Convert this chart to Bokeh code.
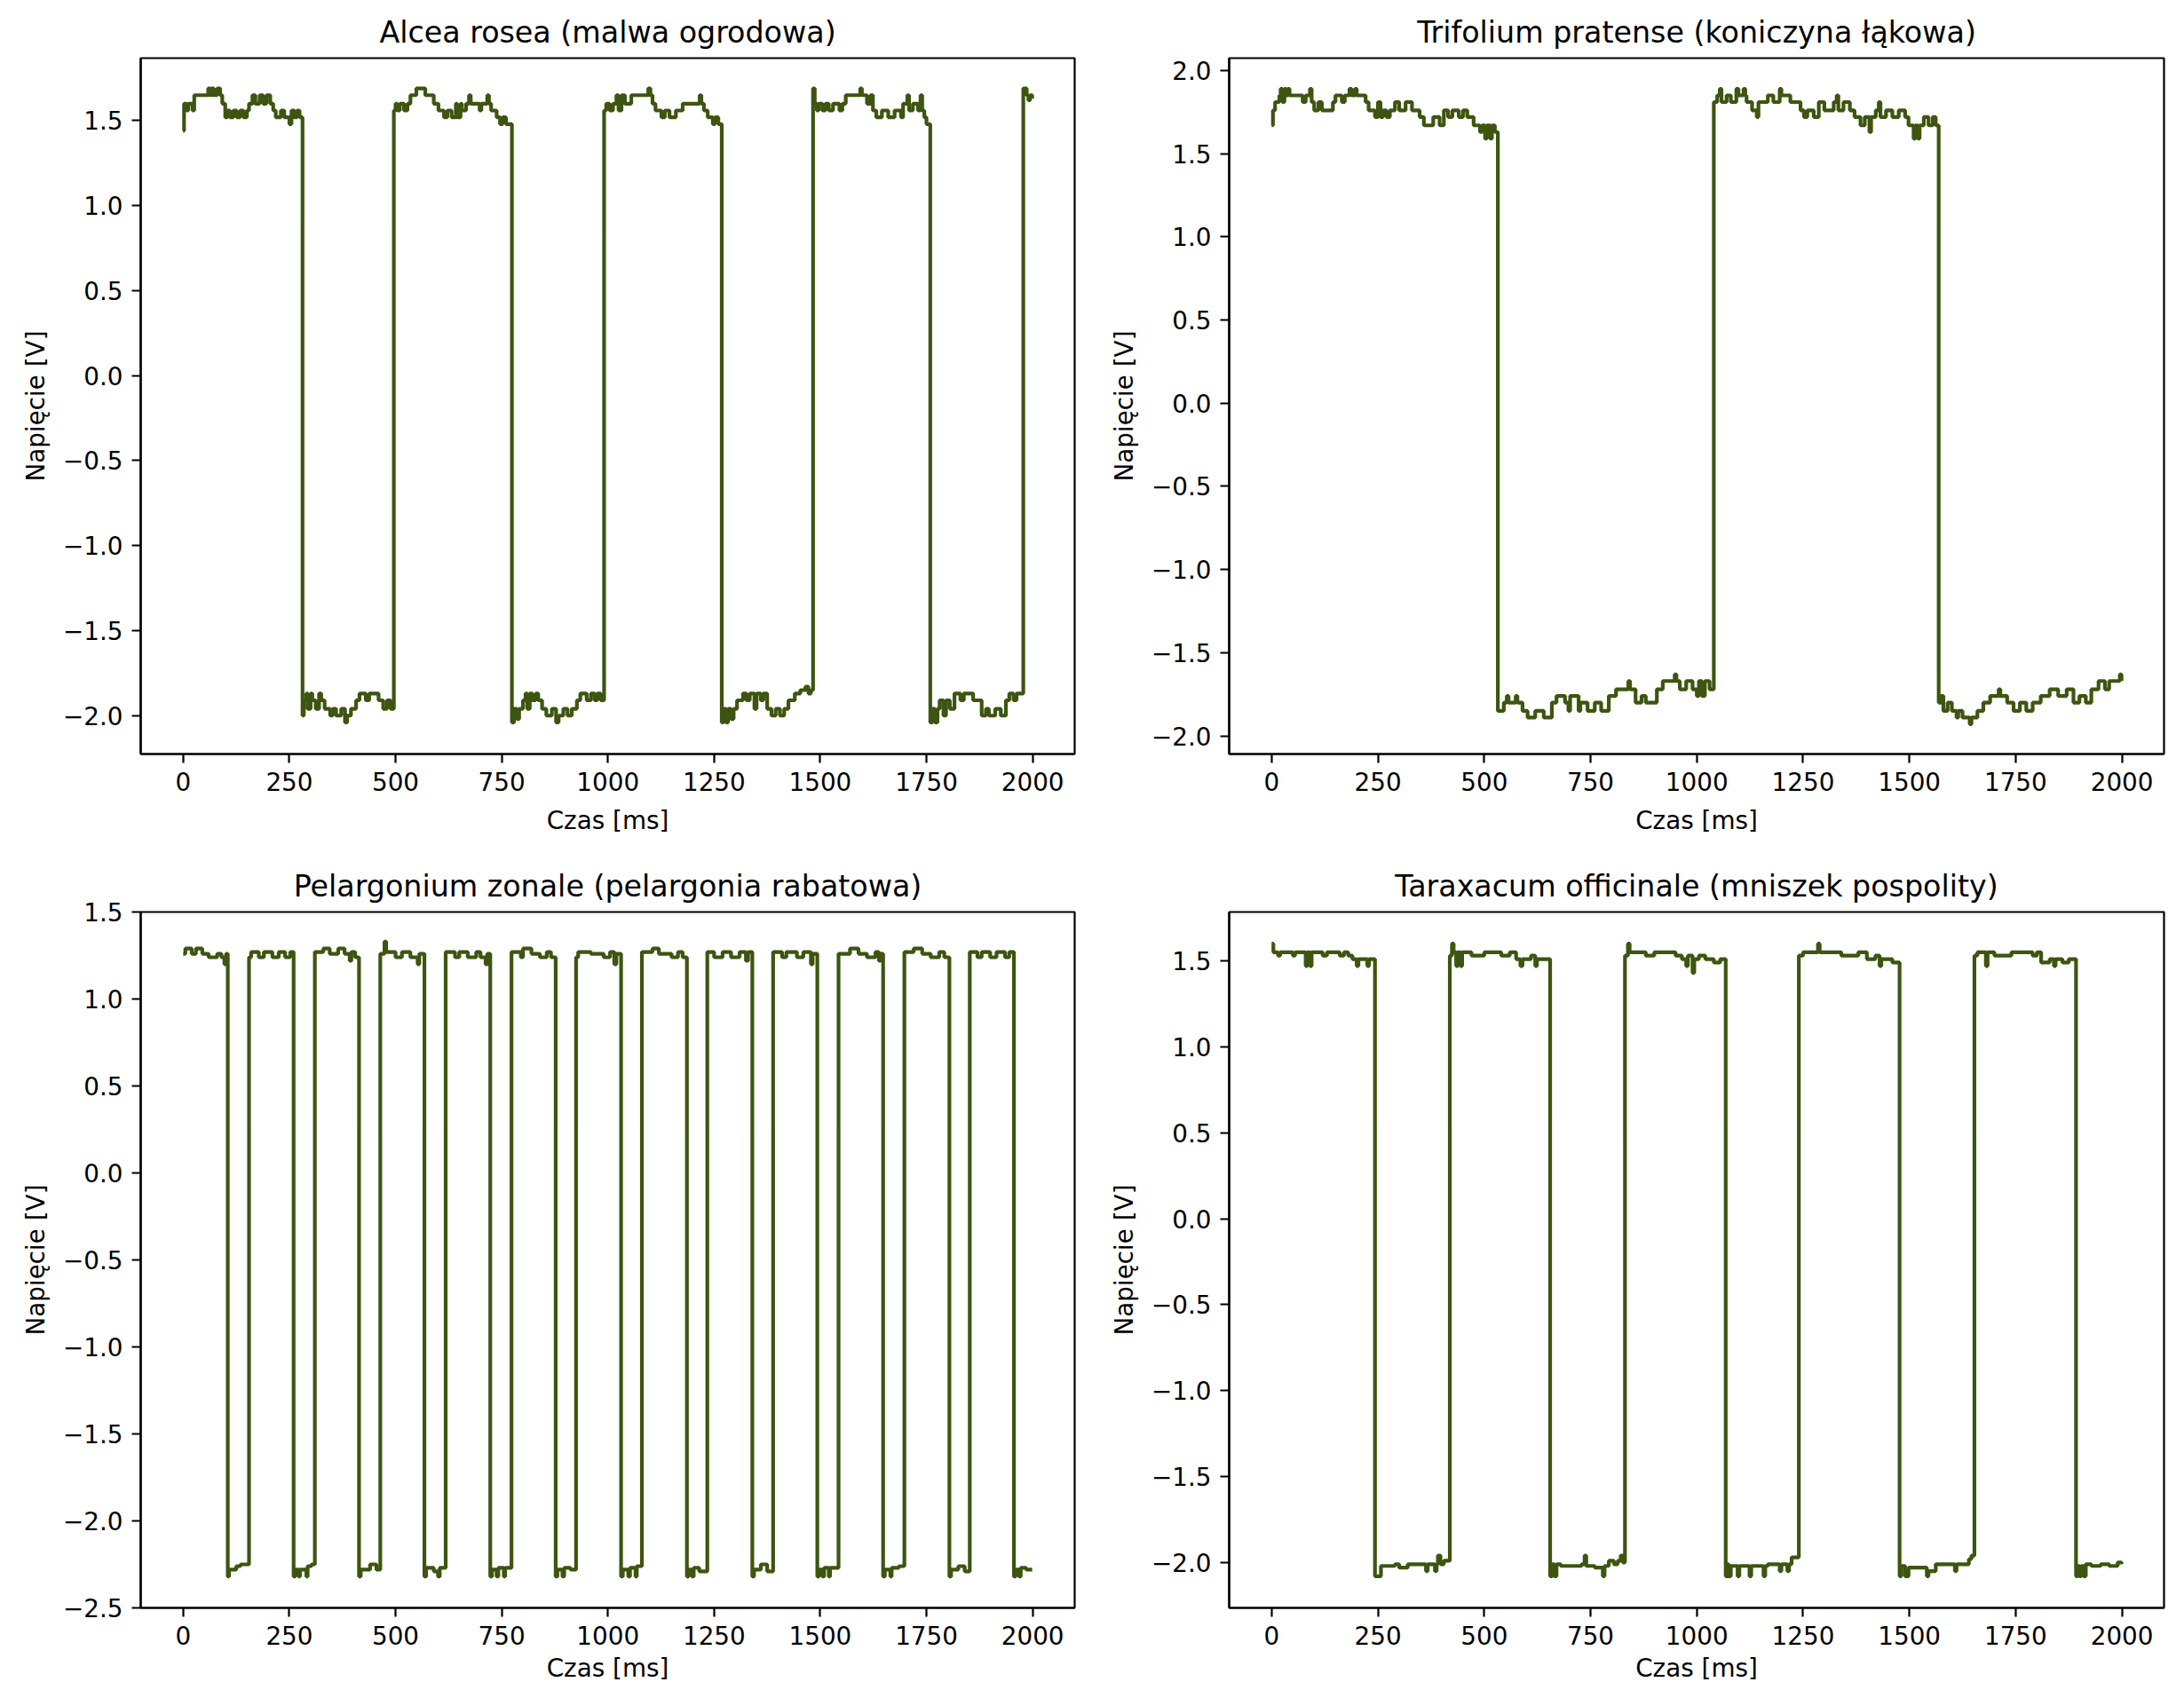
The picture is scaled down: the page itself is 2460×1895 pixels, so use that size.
from bokeh.plotting import figure
from bokeh.layouts import column, row
from bokeh.models import Range1d, FixedTicker, CustomJSTickFormatter, ColumnDataSource
from bokeh.embed import file_html
from bokeh.resources import INLINE

# ---------------- data ----------------
titles = ["Alcea rosea (malwa ogrodowa)", "Trifolium pratense (koniczyna łąkowa)",
          "Pelargonium zonale (pelargonia rabatowa)", "Taraxacum officinale (mniszek pospolity)"]
x_label = "Czas [ms]"
y_label = "Napięcie [V]"
x_ticks = [0, 250, 500, 750, 1000, 1250, 1500, 1750, 2000]
y_ticks_alcea = [-2.0, -1.5, -1.0, -0.5, 0.0, 0.5, 1.0, 1.5]
y_ticks_trifolium = [-2.0, -1.5, -1.0, -0.5, 0.0, 0.5, 1.0, 1.5, 2.0]
y_ticks_pelargonium = [-2.5, -2.0, -1.5, -1.0, -0.5, 0.0, 0.5, 1.0, 1.5]
y_ticks_taraxacum = [-2.0, -1.5, -1.0, -0.5, 0.0, 0.5, 1.0, 1.5]

t_alcea = [0, 2, 8, 12, 22, 26, 59, 63, 67, 72, 80, 87, 92, 99, 104, 110, 118, 126, 134, 142, 150, 155, 163, 170, 180, 188, 196, 205, 212, 218, 230, 238, 250, 255, 262, 268, 274,
           281, 284, 290, 293, 300, 304, 312, 320, 325, 333, 346, 352, 360, 372, 381, 386, 395, 407, 415, 430, 438, 460, 471, 480, 488,
           496, 500, 504, 510, 520, 528, 535, 549, 570, 590, 601, 614, 622, 632, 642, 645, 653, 656, 666, 673, 677, 698, 702, 716, 720, 725, 738, 746, 752, 760,
           774, 779, 786, 791, 800, 806, 810, 816, 822, 830, 836, 845, 855, 868, 878, 884, 895, 905, 915, 927, 935, 950, 960, 969, 975, 983,
           991, 996, 1004, 1012, 1020, 1025, 1032, 1040, 1055, 1095, 1100, 1105, 1112, 1126, 1134, 1145, 1160, 1176, 1216, 1220, 1226, 1235, 1247, 1252, 1260,
           1268, 1272, 1278, 1283, 1290, 1296, 1304, 1318, 1326, 1334, 1345, 1350, 1360, 1366, 1375, 1385, 1395, 1405, 1415, 1425, 1440, 1453, 1465, 1472, 1478,
           1483, 1487, 1492, 1496, 1505, 1512, 1520, 1530, 1545, 1552, 1560, 1594, 1598, 1610, 1618, 1624, 1632, 1645, 1660, 1675, 1690, 1695, 1705, 1709, 1718, 1730, 1736, 1740, 1745, 1750,
           1759, 1764, 1770, 1776, 1781, 1790, 1796, 1805, 1816, 1830, 1838, 1860, 1880, 1890, 1897, 1912, 1925, 1937, 1945, 1955, 1962,
           1978, 1986, 1990, 1994, 1999]
v_alcea = [1.44, 1.60, 1.56, 1.60, 1.56, 1.65, 1.69, 1.65, 1.69, 1.65, 1.69, 1.65, 1.60, 1.52, 1.56, 1.52, 1.56, 1.52, 1.56, 1.52, 1.56, 1.60, 1.65, 1.60, 1.65, 1.60, 1.65, 1.60, 1.56, 1.52, 1.56, 1.52, 1.48, 1.56, 1.52, 1.56, 1.52,
           -2.00, -1.91, -1.87, -1.96, -1.87, -1.91, -1.96, -1.87, -1.91, -1.96, -2.00, -1.96, -2.00, -1.96, -2.04, -2.00, -1.96, -1.91, -1.87, -1.91, -1.87, -1.91, -1.96, -1.91, -1.96,
           1.56, 1.60, 1.56, 1.60, 1.56, 1.60, 1.65, 1.69, 1.65, 1.60, 1.56, 1.52, 1.56, 1.52, 1.60, 1.52, 1.60, 1.56, 1.60, 1.65, 1.60, 1.56, 1.60, 1.65, 1.60, 1.56, 1.52, 1.48, 1.52, 1.48,
           -2.04, -1.96, -2.02, -1.96, -1.91, -1.87, -1.96, -1.87, -1.91, -1.87, -1.91, -1.96, -2.00, -1.96, -2.04, -2.00, -1.96, -2.00, -1.96, -1.91, -1.87, -1.91, -1.87, -1.91, -1.87, -1.91,
           1.56, 1.60, 1.56, 1.60, 1.65, 1.56, 1.65, 1.60, 1.65, 1.69, 1.65, 1.60, 1.56, 1.52, 1.56, 1.52, 1.56, 1.60, 1.65, 1.60, 1.56, 1.52, 1.48, 1.52, 1.48,
           -2.04, -1.96, -2.04, -1.96, -2.02, -1.96, -1.91, -1.87, -1.91, -1.87, -1.96, -1.87, -1.91, -1.87, -1.96, -2.00, -1.96, -2.00, -1.96, -1.91, -1.87, -1.85, -1.83, -1.87, -1.85,
           1.69, 1.60, 1.56, 1.60, 1.56, 1.60, 1.56, 1.60, 1.56, 1.60, 1.65, 1.69, 1.65, 1.60, 1.65, 1.56, 1.52, 1.56, 1.52, 1.56, 1.52, 1.60, 1.65, 1.56, 1.60, 1.56, 1.65, 1.56, 1.52, 1.48,
           -2.04, -1.96, -2.04, -1.96, -1.91, -2.00, -1.91, -1.96, -1.87, -1.91, -1.87, -1.91, -2.00, -1.96, -2.00, -1.96, -2.00, -1.91, -1.87, -1.91, -1.87,
           1.69, 1.65, 1.62, 1.65, 1.63]

t_trifolium = [0, 3, 8, 18, 21, 25, 30, 34, 38, 42, 73, 80, 90, 94, 100, 110, 118, 144, 150, 165, 172, 183, 188, 196, 200, 221, 228, 243, 250, 256, 262, 270, 278, 290, 300, 315, 330, 348, 358, 380, 395, 405, 415, 425, 440, 450, 460, 475, 490, 495, 502, 506, 514, 518, 525,
               532, 546, 553, 557, 574, 578, 590, 602, 620, 640, 659, 670, 690, 698, 702, 722, 726, 743, 760, 775, 793, 810, 839, 843, 856, 870, 880, 906, 920, 948, 952, 960, 975, 990, 1000, 1005, 1012, 1019, 1030,
               1040, 1048, 1054, 1058, 1070, 1080, 1093, 1098, 1110, 1114, 1117, 1130, 1141, 1145, 1167, 1180, 1195, 1199, 1220, 1244, 1252, 1260, 1275, 1287, 1300, 1322, 1329, 1333, 1345, 1360, 1371, 1385, 1395, 1406, 1410, 1421, 1428, 1432, 1445, 1460, 1475, 1490, 1498, 1510, 1514, 1520, 1524, 1534, 1545, 1555, 1562,
               1569, 1575, 1580, 1590, 1600, 1611, 1615, 1625, 1642, 1646, 1660, 1674, 1690, 1710, 1714, 1730, 1745, 1760, 1775, 1790, 1809, 1830, 1850, 1870, 1886, 1900, 1915, 1928, 1945, 1960, 1970, 1995, 1999]
v_trifolium = [1.67, 1.76, 1.81, 1.85, 1.89, 1.81, 1.89, 1.85, 1.89, 1.85, 1.81, 1.85, 1.89, 1.81, 1.76, 1.81, 1.76, 1.81, 1.85, 1.81, 1.85, 1.89, 1.85, 1.89, 1.85, 1.81, 1.76, 1.72, 1.81, 1.72, 1.76, 1.72, 1.76, 1.81, 1.76, 1.81, 1.76, 1.72, 1.67, 1.72, 1.67, 1.76, 1.72, 1.76, 1.72, 1.76, 1.72, 1.67, 1.63, 1.67, 1.59, 1.67, 1.59, 1.67, 1.63,
               -1.85, -1.80, -1.76, -1.80, -1.76, -1.80, -1.85, -1.89, -1.85, -1.89, -1.80, -1.76, -1.80, -1.85, -1.76, -1.85, -1.80, -1.85, -1.80, -1.85, -1.76, -1.72, -1.67, -1.72, -1.80, -1.76, -1.80, -1.72, -1.67, -1.63, -1.67, -1.72, -1.67, -1.72, -1.76, -1.67, -1.76, -1.67, -1.72,
               1.81, 1.85, 1.89, 1.81, 1.85, 1.81, 1.89, 1.85, 1.89, 1.85, 1.81, 1.76, 1.72, 1.81, 1.85, 1.81, 1.89, 1.85, 1.81, 1.76, 1.72, 1.76, 1.72, 1.81, 1.76, 1.81, 1.85, 1.76, 1.81, 1.76, 1.72, 1.67, 1.72, 1.63, 1.72, 1.76, 1.81, 1.72, 1.76, 1.72, 1.76, 1.72, 1.67, 1.59, 1.67, 1.59, 1.67, 1.72, 1.67, 1.72, 1.67,
               -1.80, -1.76, -1.85, -1.80, -1.85, -1.89, -1.85, -1.89, -1.93, -1.89, -1.85, -1.80, -1.76, -1.72, -1.76, -1.80, -1.85, -1.80, -1.85, -1.80, -1.76, -1.72, -1.76, -1.72, -1.80, -1.76, -1.80, -1.72, -1.67, -1.72, -1.67, -1.63, -1.67]

t_pelargonium = [0, 5, 20, 30, 45, 60, 80, 90, 97, 101,
                 105, 108, 125, 135,
                 155, 160, 178, 190, 210, 225, 240, 252,
                 260, 264, 272, 275, 290, 293, 302,
                 310, 330, 345, 365, 380, 392, 396, 405,
                 414, 418, 440, 455,
                 464, 474, 478, 500, 515, 535, 552, 556,
                 568, 572, 590, 600, 604,
                 618, 640, 650, 670, 690, 700, 712, 716,
                 723, 727, 738, 742, 755, 758,
                 773, 795, 800, 820, 840, 856, 866,
                 877, 881, 893, 897, 912,
                 925, 930, 960, 990, 1005, 1015, 1020,
                 1031, 1035, 1048, 1052, 1065, 1068,
                 1080, 1105, 1120, 1150, 1165, 1176,
                 1186, 1190, 1198, 1202, 1215,
                 1234, 1250, 1270, 1290, 1310, 1325, 1330,
                 1340, 1344, 1360, 1375,
                 1389, 1410, 1420, 1445, 1460, 1478, 1482,
                 1493, 1497, 1505, 1509, 1520, 1523,
                 1543, 1570, 1590, 1610, 1630, 1638, 1642,
                 1648, 1652, 1665, 1668, 1685,
                 1698, 1720, 1740, 1760, 1780, 1792,
                 1804, 1808, 1825, 1840,
                 1852, 1870, 1880, 1900, 1915, 1935, 1945,
                 1956, 1960, 1968, 1972, 1985, 1999]
v_pelargonium = [1.26, 1.29, 1.26, 1.29, 1.26, 1.24, 1.26, 1.24, 1.20, 1.26,
                 -2.32, -2.28, -2.26, -2.25,
                 1.24, 1.27, 1.24, 1.27, 1.24, 1.27, 1.24, 1.27,
                 -2.32, -2.28, -2.32, -2.28, -2.32, -2.26, -2.25,
                 1.27, 1.29, 1.26, 1.29, 1.26, 1.22, 1.27, 1.24,
                 -2.32, -2.28, -2.25, -2.28,
                 1.26, 1.33, 1.27, 1.24, 1.27, 1.24, 1.20, 1.26,
                 -2.32, -2.27, -2.29, -2.32, -2.27,
                 1.27, 1.24, 1.27, 1.24, 1.27, 1.24, 1.20, 1.26,
                 -2.32, -2.28, -2.32, -2.27, -2.32, -2.27,
                 1.27, 1.24, 1.29, 1.26, 1.24, 1.27, 1.24,
                 -2.32, -2.28, -2.32, -2.27, -2.28,
                 1.24, 1.27, 1.26, 1.24, 1.27, 1.20, 1.26,
                 -2.32, -2.28, -2.32, -2.27, -2.32, -2.26,
                 1.27, 1.29, 1.26, 1.24, 1.27, 1.24,
                 -2.32, -2.28, -2.32, -2.27, -2.29,
                 1.27, 1.24, 1.27, 1.24, 1.27, 1.22, 1.27,
                 -2.32, -2.28, -2.25, -2.29,
                 1.27, 1.24, 1.27, 1.24, 1.27, 1.20, 1.26,
                 -2.32, -2.28, -2.32, -2.27, -2.32, -2.27,
                 1.26, 1.29, 1.26, 1.24, 1.27, 1.22, 1.26,
                 -2.32, -2.28, -2.32, -2.27, -2.26,
                 1.27, 1.29, 1.26, 1.24, 1.27, 1.24,
                 -2.32, -2.28, -2.26, -2.29,
                 1.27, 1.24, 1.27, 1.24, 1.27, 1.24, 1.27,
                 -2.32, -2.28, -2.32, -2.27, -2.28, -2.28]

t_taraxacum = [0, 4, 15, 20, 50, 55, 80, 84, 90, 94, 120, 130, 160, 170, 180, 190, 200, 204, 225, 229,
               243, 257, 290, 300, 320, 363, 367, 384, 388, 391, 397, 405,
               419, 424, 428, 434, 438, 444, 448, 470, 500, 540, 560, 575, 585, 590, 610, 620, 624, 640,
               655, 660, 665, 670, 680, 729, 736, 740, 760, 779, 783, 793, 805, 814, 821, 826,
               831, 838, 842, 880, 900, 950, 965, 975, 979, 990, 994, 1005, 1020, 1040, 1055,
               1068, 1072, 1075, 1080, 1096, 1100, 1124, 1128, 1157, 1161, 1167, 1195, 1199, 1213, 1217, 1223,
               1240, 1250, 1285, 1289, 1340, 1380, 1400, 1420, 1430, 1434, 1460,
               1477, 1481, 1490, 1498, 1541, 1545, 1562, 1607, 1611, 1640, 1646,
               1653, 1660, 1680, 1684, 1700, 1740, 1790, 1800, 1810, 1830, 1840, 1844, 1860, 1875,
               1892, 1896, 1900, 1904, 1910, 1915, 1928, 1950, 1970, 1990, 1999]
v_taraxacum = [1.60, 1.55, 1.53, 1.55, 1.53, 1.55, 1.47, 1.55, 1.47, 1.55, 1.53, 1.55, 1.53, 1.55, 1.53, 1.51, 1.47, 1.51, 1.47, 1.51,
               -2.08, -2.02, -2.01, -2.03, -2.01, -2.05, -2.01, -2.05, -2.01, -1.96, -2.01, -1.99,
               1.53, 1.60, 1.55, 1.47, 1.55, 1.47, 1.55, 1.53, 1.55, 1.53, 1.55, 1.51, 1.47, 1.51, 1.53, 1.47, 1.51, 1.51,
               -2.08, -2.01, -2.08, -2.01, -2.02, -2.01, -1.96, -2.02, -2.03, -2.08, -2.02, -1.99, -2.01, -1.99, -1.96, -2.00,
               1.53, 1.60, 1.55, 1.53, 1.55, 1.53, 1.51, 1.47, 1.53, 1.43, 1.51, 1.53, 1.51, 1.49, 1.51,
               -2.08, -2.01, -2.08, -2.02, -2.08, -2.02, -2.08, -2.02, -2.08, -2.02, -2.01, -2.05, -2.01, -2.05, -2.01, -1.97,
               1.53, 1.55, 1.60, 1.55, 1.53, 1.55, 1.51, 1.53, 1.47, 1.51, 1.49,
               -2.08, -2.02, -2.08, -2.03, -2.08, -2.05, -2.01, -2.05, -2.01, -1.98, -1.96,
               1.53, 1.55, 1.47, 1.55, 1.53, 1.55, 1.53, 1.55, 1.49, 1.51, 1.47, 1.51, 1.49, 1.51,
               -2.08, -2.02, -2.08, -2.02, -2.08, -2.01, -2.02, -2.01, -2.02, -2.00, -2.01]

y_limits = [(-2.226, 1.868), (-2.109, 2.074), (-2.5, 1.5), (-2.264, 1.784)]
x_limits = (-100, 2099)

# ---------------- styling ----------------
LINE_COLOR = "#3d5510"
FONT = "DejaVu Sans"
TICK_FS = "27.8px"
TITLE_FS = "33.3px"
FW, FH = 1052, 784

y_fmt_code = "return tick.toFixed(1).replace('-', '\u2212');"


def make_panel(title, t, v, yticks, ylim, top_border, bottom_border, left_border, right_border, fw,
               xlabel_standoff):
    p = figure(frame_width=fw, frame_height=FH, output_backend="svg", toolbar_location=None,
               x_range=Range1d(*x_limits), y_range=Range1d(*ylim),
               min_border_left=left_border, min_border_right=right_border,
               min_border_top=top_border, min_border_bottom=bottom_border,
               title=title, background_fill_color="white", border_fill_color="white")
    p.title.text_font = FONT
    p.title.text_font_size = TITLE_FS
    p.title.text_font_style = "normal"
    p.title.text_color = "black"
    p.title.align = "center"
    p.title.standoff = 19
    p.grid.visible = False
    p.outline_line_color = "black"
    p.outline_line_width = 2.2
    p.outline_line_alpha = 1.0
    for ax in (p.xaxis[0], p.yaxis[0]):
        ax.axis_line_width = 2.2
        ax.axis_line_color = "black"
        ax.major_tick_line_width = 2.2
        ax.major_tick_line_color = "black"
        ax.major_tick_out = 10
        ax.major_tick_in = 0
        ax.minor_tick_line_color = None
        ax.major_label_text_font = FONT
        ax.major_label_text_font_size = TICK_FS
        ax.major_label_text_color = "black"
        ax.major_label_standoff = 10
        ax.axis_label_text_font = FONT
        ax.axis_label_text_font_size = TICK_FS
        ax.axis_label_text_font_style = "normal"
        ax.axis_label_text_color = "black"
    p.xaxis[0].ticker = FixedTicker(ticks=x_ticks)
    p.yaxis[0].ticker = FixedTicker(ticks=yticks)
    p.yaxis[0].formatter = CustomJSTickFormatter(code=y_fmt_code)
    p.yaxis[0].axis_label = y_label
    p.yaxis[0].axis_label_standoff = 11
    p.xaxis[0].axis_label = x_label
    p.xaxis[0].axis_label_standoff = xlabel_standoff
    src = ColumnDataSource(dict(t=t, v=v))
    p.step(x="t", y="v", source=src, mode="after", line_width=4.17, line_color=LINE_COLOR)
    return p


p1 = make_panel(titles[0], t_alcea, v_alcea, y_ticks_alcea, y_limits[0], 65, 100, 158, 24, FW, 14)
p2 = make_panel(titles[1], t_trifolium, v_trifolium, y_ticks_trifolium, y_limits[1], 65, 100, 150, 10, 1053, 14)
p3 = make_panel(titles[2], t_pelargonium, v_pelargonium, y_ticks_pelargonium, y_limits[2], 78, 84, 158, 24, FW, 7)
p4 = make_panel(titles[3], t_taraxacum, v_taraxacum, y_ticks_taraxacum, y_limits[3], 78, 84, 150, 10, 1053, 7)

layout = column(row(p1, p2, spacing=0), row(p3, p4, spacing=0), spacing=0)
open("out.html", "w").write(file_html(layout, INLINE))
